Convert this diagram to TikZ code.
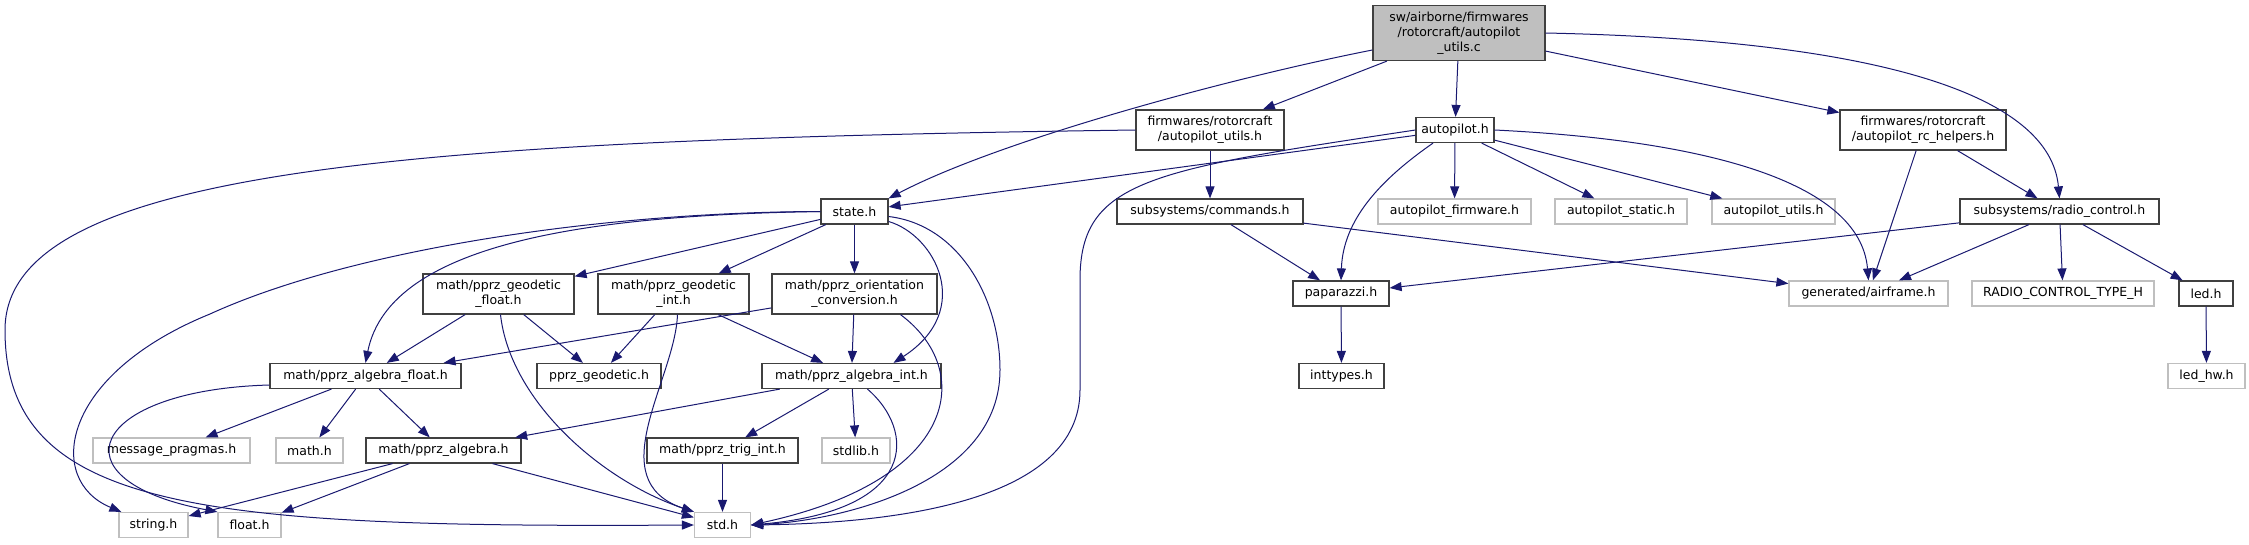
\documentclass[tikz,border=0pt]{standalone}
\usepackage{fontspec}
\setmainfont{DejaVu Sans}
\usepackage{tikz}
\usetikzlibrary{arrows.meta,positioning}
\definecolor{incblue}{RGB}{25,25,112}
\definecolor{incgray}{RGB}{191,191,191}
\definecolor{incframe}{RGB}{64,64,64}

\begin{document}
\begin{tikzpicture}[
    x=1pt,y=1pt,
    file/.style={draw=incframe,line width=1.2pt,fill=white,inner sep=0pt,
                 minimum height=25pt,align=center,
                 font=\fontsize{12.5}{15}\selectfont},
    sysfile/.style={file,draw=incgray},
    mainfile/.style={file,fill=incgray},
    inc/.style={-{Triangle[length=12pt,width=9pt]},line width=1pt,incblue}
  ]
    \useasboundingbox (0,0) rectangle (2249,-544);

    % rows of the include graph
    \node[mainfile,minimum width=172pt,minimum height=55pt] (root) at (1459,-33)
      {sw/airborne/firmwares\\/rotorcraft/autopilot\\\_utils.c};

    \node[file,minimum width=148pt,minimum height=40pt] (fwutils) at (1210,-130)
      {firmwares/rotorcraft\\/autopilot\_utils.h};
    \node[file,minimum width=78pt] (autopilot) at (1455,-130) {autopilot.h};
    \node[file,minimum width=166pt,minimum height=40pt] (rchelpers) at (1923,-130)
      {firmwares/rotorcraft\\/autopilot\_rc\_helpers.h};

    \node[file,minimum width=67pt] (state) at (854.5,-211.5) {state.h};
    \node[file,minimum width=186pt] (commands) at (1210,-211.5) {subsystems/commands.h};
    \node[sysfile,minimum width=153pt] (apfirmware) at (1454.5,-211.5) {autopilot\_firmware.h};
    \node[sysfile,minimum width=132pt] (apstatic) at (1621,-211.5) {autopilot\_static.h};
    \node[sysfile,minimum width=123pt] (aputils) at (1773.5,-211.5) {autopilot\_utils.h};
    \node[file,minimum width=199pt] (radioctl) at (2059.5,-211.5) {subsystems/radio\_control.h};

    \node[file,minimum width=151pt,minimum height=40pt] (geofloat) at (498.5,-294)
      {math/pprz\_geodetic\\\_float.h};
    \node[file,minimum width=151pt,minimum height=40pt] (geoint) at (673.5,-294)
      {math/pprz\_geodetic\\\_int.h};
    \node[file,minimum width=165pt,minimum height=40pt] (orient) at (854.5,-294)
      {math/pprz\_orientation\\\_conversion.h};
    \node[file,minimum width=96pt] (paparazzi) at (1341,-293.5) {paparazzi.h};
    \node[sysfile,minimum width=159pt] (airframe) at (1868.5,-293.5) {generated/airframe.h};
    \node[sysfile,minimum width=182pt] (rctype) at (2063,-293.5) {RADIO\_CONTROL\_TYPE\_H};
    \node[file,minimum width=54pt] (led) at (2206,-293.5) {led.h};

    \node[file,minimum width=191pt] (algfloat) at (365.5,-376) {math/pprz\_algebra\_float.h};
    \node[file,minimum width=124pt] (geodetic) at (599,-376) {pprz\_geodetic.h};
    \node[file,minimum width=179pt] (algint) at (851.5,-376) {math/pprz\_algebra\_int.h};
    \node[file,minimum width=85pt] (inttypes) at (1341.5,-376) {inttypes.h};
    \node[sysfile,minimum width=77pt] (ledhw) at (2206.5,-376) {led\_hw.h};

    \node[sysfile,minimum width=157pt] (msgprag) at (171.5,-450.5) {message\_pragmas.h};
    \node[sysfile,minimum width=67pt] (mathh) at (309.5,-450.5) {math.h};
    \node[file,minimum width=155pt] (algebra) at (443.5,-450.5) {math/pprz\_algebra.h};
    \node[file,minimum width=151pt] (trigint) at (722.5,-450.5) {math/pprz\_trig\_int.h};
    \node[sysfile,minimum width=68pt] (stdlib) at (856,-450.5) {stdlib.h};

    \node[sysfile,minimum width=69pt] (stringh) at (153.5,-525) {string.h};
    \node[sysfile,minimum width=63pt] (floath) at (249.5,-525) {float.h};
    \node[sysfile,minimum width=56pt] (stdh) at (722.5,-525) {std.h};

    % autopilot_utils.c
    \draw[inc] (root) -- (fwutils);
    \draw[inc] (root) -- (autopilot);
    \draw[inc] (root) -- (rchelpers);
    \draw[inc] ([yshift=-17pt]root.west) .. controls (1230,-78) and (1000,-140) .. (state.north east);
    \draw[inc] (root.east) .. controls (1880,-40) and (2050,-95) .. (radioctl.north);

    % firmware headers
    \draw[inc] (fwutils) -- (commands);
    \draw[inc] (fwutils.west) .. controls (400,-140) and (5,-170) .. (5,-330)
      .. controls (5,-510) and (200,-528) .. (stdh.west);
    \draw[inc] (autopilot) -- (state);
    \draw[inc] (autopilot) -- (apfirmware);
    \draw[inc] (autopilot) -- (apstatic);
    \draw[inc] (autopilot) -- (aputils);
    \draw[inc] (autopilot.west) .. controls (1150,-170) and (1080,-180) .. (1080,-280)
      -- (1080,-390) .. controls (1080,-500) and (900,-523) .. (stdh.east);
    \draw[inc] ([xshift=-22pt]autopilot.south) .. controls (1380,-180) and (1343,-220) .. (paparazzi.north);
    \draw[inc] (autopilot.east) .. controls (1700,-140) and (1860,-180) .. (airframe.north);
    \draw[inc] (rchelpers) -- (airframe);
    \draw[inc] (rchelpers) -- (radioctl);

    \draw[inc] (commands) -- (paparazzi);
    \draw[inc] (commands) -- (airframe);
    \draw[inc] (radioctl) -- (paparazzi);
    \draw[inc] (radioctl) -- (airframe);
    \draw[inc] (radioctl) -- (rctype);
    \draw[inc] (radioctl) -- (led);
    \draw[inc] (led) -- (ledhw);
    \draw[inc] (paparazzi) -- (inttypes);

    % state.h and math
    \draw[inc] (state) -- (geofloat);
    \draw[inc] (state) -- (geoint);
    \draw[inc] (state) -- (orient);
    \draw[inc] (state.west) .. controls (600,-212) and (350,-250) .. (210,-314)
      .. controls (60,-375) and (45,-480) .. ([xshift=3pt]stringh.north west);
    \draw[inc] (state.west) .. controls (600,-215) and (390,-240) .. (algfloat.north);
    \draw[inc] ([yshift=-10pt]state.east) .. controls (935,-235) and (975,-310) .. ([xshift=42pt]algint.north);
    \draw[inc] ([yshift=-5pt]state.east) .. controls (960,-225) and (1000,-300) .. (1000,-370)
      .. controls (1000,-480) and (850,-520) .. (stdh.east);

    \draw[inc] (geofloat) -- (algfloat);
    \draw[inc] (geofloat) -- (geodetic);
    \draw[inc] ([xshift=2pt]geofloat.south) .. controls (510,-400) and (600,-480) .. (stdh.north west);
    \draw[inc] (geoint) -- (geodetic);
    \draw[inc] (geoint) -- (algint);
    \draw[inc] ([xshift=4pt]geoint.south) .. controls (675,-380) and (600,-480) .. (stdh.north west);
    \draw[inc] (orient) -- (algfloat);
    \draw[inc] (orient) -- (algint);
    \draw[inc] ([xshift=46pt]orient.south) .. controls (975,-370) and (960,-480) .. (stdh.east);

    \draw[inc] (algint) -- (algebra);
    \draw[inc] (algint) -- (trigint);
    \draw[inc] (algint) -- (stdlib);
    \draw[inc] ([xshift=16pt]algint.south) .. controls (915,-430) and (920,-510) .. (stdh.east);
    \draw[inc] (trigint) -- (stdh);

    \draw[inc] (algfloat) -- (msgprag);
    \draw[inc] (algfloat) -- (mathh);
    \draw[inc] (algfloat) -- (algebra);
    \draw[inc] ([yshift=-9pt]algfloat.west) .. controls (90,-390) and (50,-480) .. (floath.north west);
    \draw[inc] (algebra) -- (stringh);
    \draw[inc] (algebra) -- (floath);
    \draw[inc] (algebra) -- (stdh);
\end{tikzpicture}
\end{document}
